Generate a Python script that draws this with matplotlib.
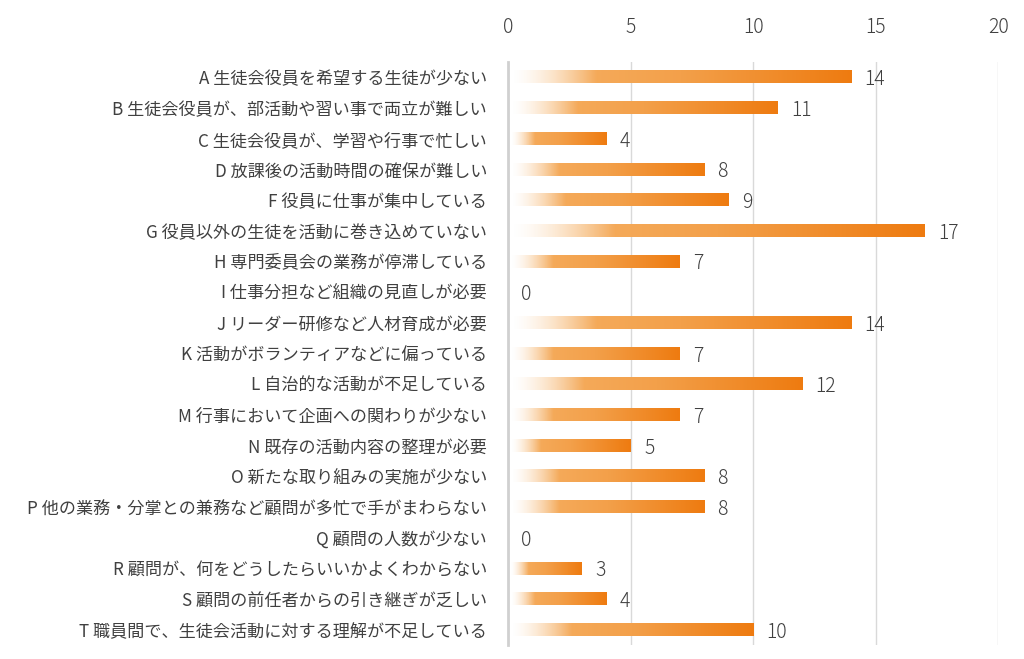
import numpy as np
import matplotlib
matplotlib.use("Agg")
import matplotlib.pyplot as plt
from matplotlib.colors import to_rgb

plt.rcParams['font.family'] = ['Noto Sans CJK JP', 'DejaVu Sans']

categories = [
    "A 生徒会役員を希望する生徒が少ない",
    "B 生徒会役員が、部活動や習い事で両立が難しい",
    "C 生徒会役員が、学習や行事で忙しい",
    "D 放課後の活動時間の確保が難しい",
    "F 役員に仕事が集中している",
    "G 役員以外の生徒を活動に巻き込めていない",
    "H 専門委員会の業務が停滞している",
    "I 仕事分担など組織の見直しが必要",
    "J リーダー研修など人材育成が必要",
    "K 活動がボランティアなどに偏っている",
    "L 自治的な活動が不足している",
    "M 行事において企画への関わりが少ない",
    "N 既存の活動内容の整理が必要",
    "O 新たな取り組みの実施が少ない",
    "P 他の業務・分掌との兼務など顧問が多忙で手がまわらない",
    "Q 顧問の人数が少ない",
    "R 顧問が、何をどうしたらいいかよくわからない",
    "S 顧問の前任者からの引き継ぎが乏しい",
    "T 職員間で、生徒会活動に対する理解が不足している",
]
values = [14, 11, 4, 8, 9, 17, 7, 0, 14, 7, 12, 7, 5, 8, 8, 0, 3, 4, 10]
xticks = [0, 5, 10, 15, 20]

text_color = "#404040"
fig = plt.figure(figsize=(10.24, 6.59), dpi=100)
ax = fig.add_axes([0.496, 0.021, 0.479, 0.885])

# gradient definition
n = 256
t = np.linspace(0, 1, n)
c_light = np.array(to_rgb("#F6B368"))
c_mid = np.array(to_rgb("#F3A04A"))
c_end = np.array(to_rgb("#EE7B10"))
rgb = np.zeros((n, 3))
for i, tt in enumerate(t):
    if tt < 0.5:
        rgb[i] = c_light + (c_mid - c_light) * (tt / 0.5)
    else:
        rgb[i] = c_mid + (c_end - c_mid) * ((tt - 0.5) / 0.5)
alpha = np.clip(t / 0.25, 0, 1) ** 1.5
grad = np.zeros((1, n, 4))
grad[0, :, :3] = rgb
grad[0, :, 3] = alpha

h = 0.4
start = 0.12
for i, v in enumerate(values):
    if v > 0:
        ax.imshow(grad, extent=[start, v, i + h / 2, i - h / 2], aspect='auto',
                  interpolation='bilinear', zorder=3)
    ax.text(v + 0.55, i, str(v), va='center_baseline', ha='left', fontsize=14,
            fontweight='light', color=text_color, zorder=4)

ax.set_xlim(0, 20)
ax.set_ylim(len(values) - 0.5, -0.5)
ax.set_aspect('auto')
ax.set_xticks(xticks)
ax.xaxis.tick_top()
ax.tick_params(axis='x', length=0, pad=17, labelsize=14, labelcolor=text_color)
ax.set_yticks(range(len(categories)))
ax.set_yticklabels(categories)
ax.tick_params(axis='y', length=0, pad=15, labelsize=12.3, labelcolor=text_color)
for lab in ax.get_xticklabels():
    lab.set_fontweight('light')
for s in ['top', 'right', 'bottom']:
    ax.spines[s].set_visible(False)
ax.spines['left'].set_color('#D0D0D0')
ax.spines['left'].set_linewidth(2)
ax.grid(axis='x', color='#D9D9D9', linewidth=1, zorder=0)
ax.set_axisbelow(True)

fig.savefig("out.png", dpi=100)
